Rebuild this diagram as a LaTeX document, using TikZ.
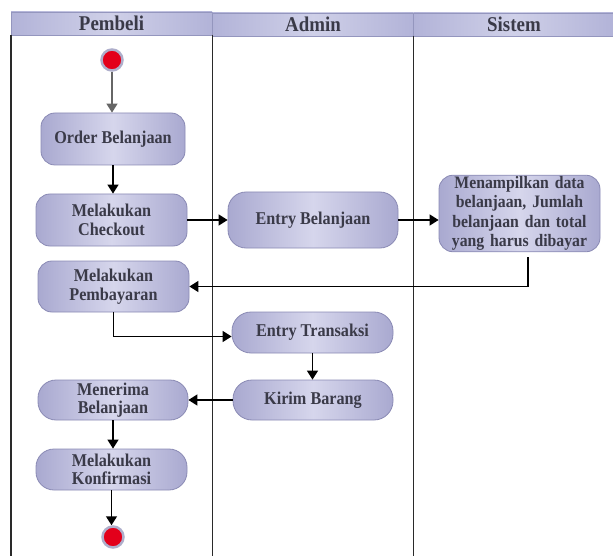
\documentclass[tikz,border=0pt]{standalone}
\usepackage{fontspec}
\setmainfont{Liberation Serif}
\newfontfamily\boxfont{Liberation Serif}[FakeStretch=0.9]
\usetikzlibrary{arrows.meta,calc}
\definecolor{boxA}{HTML}{A9A9D0}
\definecolor{boxB}{HTML}{D6D6EC}
\definecolor{boxE}{HTML}{8A8AB4}
\definecolor{hdrA}{HTML}{B2B3D8}
\definecolor{hdrB}{HTML}{CFD0E8}
\definecolor{hdrE}{HTML}{9496BE}
\definecolor{txt}{HTML}{3A3A48}
\definecolor{dotred}{HTML}{E3001B}
\definecolor{ring}{HTML}{AEAECB}
\definecolor{laneC}{HTML}{2A2A2A}
\tikzset{
  actbox/.style={draw=boxE, line width=0.8pt, rounded corners=14pt,
    left color=boxA, right color=boxA, middle color=boxB,
    align=center, text=txt, font=\boxfont\bfseries\fontsize{18}{18.5}\selectfont,
    inner sep=1pt},
  hdr/.style={draw=hdrE, line width=0.8pt, left color=hdrA, right color=hdrA,
    middle color=hdrB, text=txt, font=\boxfont\bfseries\fontsize{21}{21}\selectfont,
    inner sep=0pt},
  dot/.style={circle, fill=dotred, draw=ring, line width=2.5pt,
    minimum size=21pt, inner sep=0pt},
  arr/.style={line width=1.5pt, draw=black,
    -{Triangle[length=9pt,width=11pt]}},
  lane/.style={line width=1.2pt, draw=laneC},
}
\begin{document}
\begin{tikzpicture}[x=1pt,y=-1pt]
\useasboundingbox (0,0) rectangle (613,556);
% headers
\node[hdr, minimum width=201pt, minimum height=23pt] (hp) at (111.5,23.5) {Pembeli};
\node[hdr, minimum width=201pt, minimum height=23pt] (ha) at (313,24.5) {Admin};
\node[hdr, minimum width=201pt, minimum height=23pt] (hs) at (514,24.5) {Sistem};
% lane lines
\coordinate (l0t) at (11,35); \coordinate (l0b) at (11,556);
\coordinate (l1t) at (212.5,35); \coordinate (l1b) at (212.5,556);
\coordinate (l2t) at (413.5,36); \coordinate (l2b) at (413.5,556);
\draw[lane] (l0t) -- (l0b);
\draw[lane] (l1t) -- (l1b);
\draw[lane] (l2t) -- (l2b);
% nodes
\node[dot] (start) at (112,60) {};
\node[actbox, minimum width=144pt, minimum height=52pt] (order) at (113,139) {Order Belanjaan};
\node[actbox, minimum width=151pt, minimum height=52pt] (checkout) at (111.5,220) {Melakukan\\Checkout};
\node[actbox, minimum width=151pt, minimum height=51pt] (bayar) at (113.5,286.5) {Melakukan\\Pembayaran};
\node[actbox, minimum width=170pt, minimum height=56pt, rounded corners=18pt] (entryb) at (313,220) {Entry Belanjaan};
\node[actbox, minimum width=161pt, minimum height=73pt, text width=159pt,
  font=\boxfont\bfseries\fontsize{17.5}{19.5}\selectfont] (tampil) at (519.5,213.5)
  {Menampilkan data\\belanjaan, Jumlah\\belanjaan dan total\\yang harus dibayar};
\node[actbox, minimum width=161pt, minimum height=41pt, rounded corners=19pt] (entryt) at (312.5,332.5) {Entry Transaksi};
\node[actbox, minimum width=160pt, minimum height=40pt, rounded corners=19pt] (kirim) at (313,400) {Kirim Barang};
\node[actbox, minimum width=150pt, minimum height=40pt, rounded corners=18pt] (terima) at (113,400) {Menerima\\Belanjaan};
\node[actbox, minimum width=151pt, minimum height=41pt, rounded corners=18pt] (konfirm) at (111.5,469.5) {Melakukan\\Konfirmasi};
\node[dot] (end) at (113,537) {};
% connectors
\draw[arr, draw=gray!80!black] (start) -- (order.north -| start);
\draw[arr] (order) -- (checkout.north -| order);
\draw[arr] (checkout.east) -- (entryb.west);
\draw[arr] (entryb.east) -- (entryb.east -| tampil.west);
\draw[arr] ([xshift=8.5pt,yshift=-5pt]tampil.south) |- (bayar.east);
\draw[arr] (bayar.south) |- ([yshift=-4pt]entryt.west);
\draw[arr] (entryt) -- (kirim.north -| entryt);
\draw[arr] (kirim.west) -- (terima.east);
\draw[arr] (terima) -- (konfirm.north -| terima);
\draw[arr] (konfirm) -- (end.north -| konfirm);
\end{tikzpicture}
\end{document}
